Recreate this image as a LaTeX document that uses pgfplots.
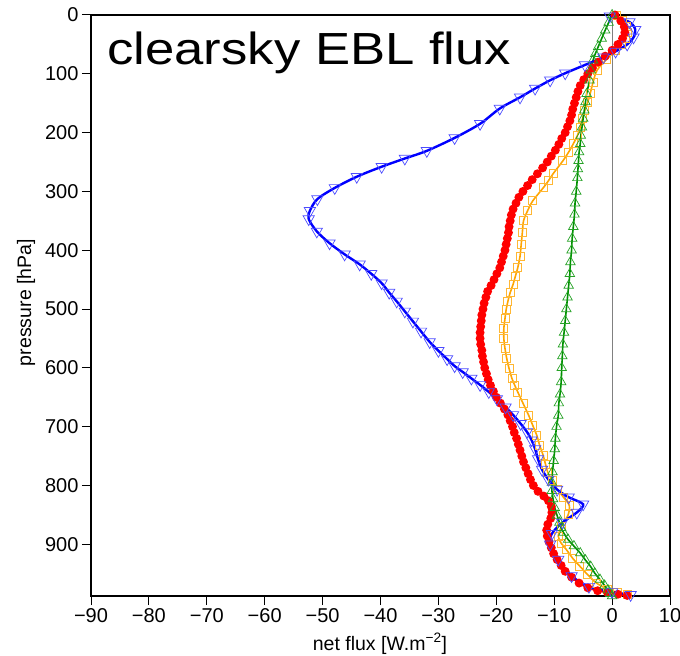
\documentclass[border=0pt]{standalone}
\usepackage{fontspec}
\setmainfont{Liberation Sans}
\newfontfamily\titlefont[FakeStretch=1.17]{Liberation Sans}
\usepackage{pgfplots}
\pgfplotsset{compat=1.18}

\definecolor{eblorange}{RGB}{255,165,0}
\definecolor{eblgreen}{RGB}{0,145,0}

\begin{document}
\begin{tikzpicture}
\begin{axis}[
    width=579pt, height=581pt, scale only axis,
    xmin=-90, xmax=10,
    ymin=0, ymax=988,
    y dir=reverse,
    xtick={-90,-80,-70,-60,-50,-40,-30,-20,-10,0,10},
    xticklabels={−90,−80,−70,−60,−50,−40,−30,−20,−10,0,10},
    ytick={0,100,200,300,400,500,600,700,800,900},
    xtick pos=bottom, ytick pos=left,
    tick align=outside,
    major tick length=9pt,
    tick style={black, line width=1pt},
    axis line style={line width=1.4pt},
    /pgf/number format/assume math mode=true,
    ticklabel style={font=\fontsize{20}{20}\selectfont},
    xlabel={net flux [W.m\textsuperscript{−2}]},
    ylabel={pressure [hPa]},
    label style={font=\fontsize{19.5}{20}\selectfont},
    xlabel style={at={(axis description cs:0.499,0)}, anchor=base, yshift=-54pt},
    ylabel style={at={(axis description cs:-0.112,0.505)}, anchor=center},
    clip=false,
]
% zero line
\addplot[gray, line width=1.2pt, forget plot] coordinates {(0,0)(0,988)};

% orange, open squares
\addplot[eblorange, line width=1.6pt, smooth, mark=square, mark size=4pt,
  mark options={solid, line width=0.8pt, draw=eblorange!80}] coordinates {
(0.8,0)(1.8,10)(2.5,20)(2.7,30)(2.3,40)(1.6,50)(0.6,60)(-0.9,75)(-2.6,94)
(-3.3,115)(-3.8,134)(-4.2,148)(-4.7,162)(-5.1,176)(-5.5,191)(-6.0,205)(-6.7,219)
(-7.5,233)(-8.5,248)(-10.2,270)(-11.0,282)
(-11.9,294)(-13.7,316)(-14.6,333)(-15.3,350)(-15.5,370)(-15.7,390)(-15.9,410)
(-16.3,430)(-16.7,444)(-17.1,458)(-17.6,472)(-18.0,487)(-18.3,501)(-18.5,516)
(-18.7,533)(-18.7,550)(-18.5,567)(-18.2,584)(-17.8,601)(-17.3,618)(-16.8,630)
(-16.3,641)(-15.4,660)(-14.4,681)(-13.7,698)(-13.0,715)(-12.5,732)(-11.9,749)
(-11.5,764)(-11.1,778)(-10.3,792)(-9.5,806)(-8.4,820)(-7.4,834)(-7.6,850)
(-8.7,869)(-9.3,886)(-8.8,898)(-7.9,909)(-6.8,924)(-5.6,937)(-4.2,952)
(-2.7,966)(-0.8,976)(0.9,982)(2.6,986)
};

% red, filled circles
\addplot[red, line width=1.8pt, smooth, mark=*, mark size=3.5pt,
  mark options={solid, fill=red, draw=red}] coordinates {
(0.5,0)(1.5,10)(2.1,20)(2.2,30)(1.8,40)(1.0,50)(0.0,60)(-1.2,70)(-2.4,80)
(-3.4,90)(-4.2,100)(-4.9,110)(-5.5,120)(-5.9,130)(-6.2,140)(-6.5,150)
(-6.8,160)(-7.0,170)(-7.3,180)(-7.7,190)(-8.1,200)(-8.7,210)(-9.2,220)
(-9.8,230)(-10.5,240)(-11.2,250)(-12.0,260)(-12.9,270)(-13.8,280)(-14.6,290)
(-15.4,300)(-16.1,310)(-16.6,320)(-17.1,330)(-17.4,340)(-17.6,350)(-17.8,360)
(-17.9,370)(-18.1,380)(-18.3,390)(-18.5,400)(-18.8,410)(-19.1,420)(-19.4,430)
(-19.9,440)(-20.4,450)(-20.9,460)(-21.5,470)(-21.8,480)(-22.1,490)(-22.3,500)
(-22.5,510)(-22.6,520)(-22.7,530)(-22.8,540)(-22.8,550)(-22.7,560)(-22.5,570)
(-22.4,580)(-22.2,590)(-22.0,600)(-21.7,610)(-21.4,620)(-21.0,630)(-20.5,640)
(-20.0,650)(-19.3,660)(-18.6,670)(-18.0,680)(-17.6,690)(-17.2,700)(-16.9,710)
(-16.5,720)(-16.2,730)(-15.9,740)(-15.6,750)(-15.3,760)(-14.9,770)(-14.5,780)
(-14.1,790)(-13.6,800)(-12.8,810)(-11.8,818)(-11.0,826)(-10.5,836)(-10.4,846)
(-10.6,856)(-11.1,866)(-11.3,876)(-11.2,886)(-10.9,896)(-10.5,906)(-10.1,916)
(-9.5,926)(-8.8,936)(-8.1,946)(-7.0,956)(-5.7,966)(-4.2,974)(-2.5,979)
(-0.8,982)(1.0,985)(2.6,987)
};

% green, open triangles
\addplot[eblgreen, line width=1.6pt, smooth, mark=triangle, mark size=5.5pt,
  mark options={solid, line width=0.7pt, draw=eblgreen!85}] coordinates {
(0,0)(-0.6,13)(-1.2,26)(-1.8,40)(-2.4,54)(-2.9,66)(-3.3,77)(-3.7,94)
(-3.9,111)(-4.4,134)(-4.6,148)(-4.8,162)(-5.0,176)(-5.2,191)(-5.4,205)(-5.5,219)
(-5.7,233)(-5.8,248)(-5.9,262)(-6.0,277)
(-6.2,300)(-6.4,320)(-6.5,339)(-6.7,360)(-6.9,380)(-7.0,400)(-7.2,420)
(-7.3,440)(-7.5,460)(-7.7,480)(-7.9,500)(-8.1,520)(-8.3,540)(-8.5,560)
(-8.6,580)(-8.7,600)(-8.8,624)(-9.0,645)(-9.2,660)(-9.3,681)(-9.6,700)
(-9.8,720)(-9.9,738)(-10.1,758)(-10.3,777)(-10.4,795)(-10.4,809)(-10.2,823)
(-9.9,838)(-9.5,851)(-9.1,863)(-8.8,872)(-8.4,880)(-7.6,892)(-6.6,903)
(-5.5,915)(-4.6,927)(-3.7,938)(-3.0,949)(-2.1,960)(-1.3,970)(-0.7,978)
(-0.3,984)(0,988)
};

% blue, open triangles down
\addplot[blue, line width=2.4pt, smooth, mark=triangle, mark size=6.5pt,
  mark options={solid, rotate=180, line width=0.7pt, draw=blue!70}] coordinates {
(-0.4,2)(3.0,12)(4.0,25)(3.7,38)(2.6,50)(0.6,62)(-1.5,72)(-4.7,85)(-8.1,99)
(-10.7,111)(-13.3,125)(-15.9,140)(-19.4,159)(-22.8,185)(-27.2,209)(-32.0,231)
(-35.8,244)(-39.8,258)(-44.1,275)(-47.9,294)(-50.9,313)(-52.2,333)(-52.4,347)
(-51.0,368)(-48.8,388)(-46.2,407)(-43.6,424)(-41.6,440)(-39.8,456)(-38.5,472)
(-37.2,487)(-35.8,504)(-34.4,521)(-33.0,538)(-31.5,556)(-30.0,571)(-28.5,585)
(-27.2,597)(-25.8,607)(-24.3,618)(-22.8,629)(-21.3,641)(-19.9,653)(-18.4,667)
(-17.1,680)(-15.8,695)(-14.7,709)(-13.9,723)(-13.3,738)(-12.8,755)(-12.1,773)
(-11.0,790)(-9.5,807)(-7.5,820)(-5.0,832)(-6.1,846)(-8.6,863)(-10.4,882)
(-10.7,900)(-9.3,926)(-7.0,954)(-4.0,972)(0.0,981)(3.2,986)
};

\node[anchor=base west, font=\titlefont\fontsize{45}{45}\selectfont, inner sep=0pt]
  at (rel axis cs:0.028,0.914) {clearsky EBL flux};
\coordinate (ll) at (rel axis cs:0,0);
\coordinate (ur) at (rel axis cs:1,1);
\end{axis}
\pgfresetboundingbox
\path[use as bounding box] ([shift={(-91pt,-59pt)}]ll) rectangle ([shift={(10pt,15pt)}]ur);
\end{tikzpicture}
\end{document}
